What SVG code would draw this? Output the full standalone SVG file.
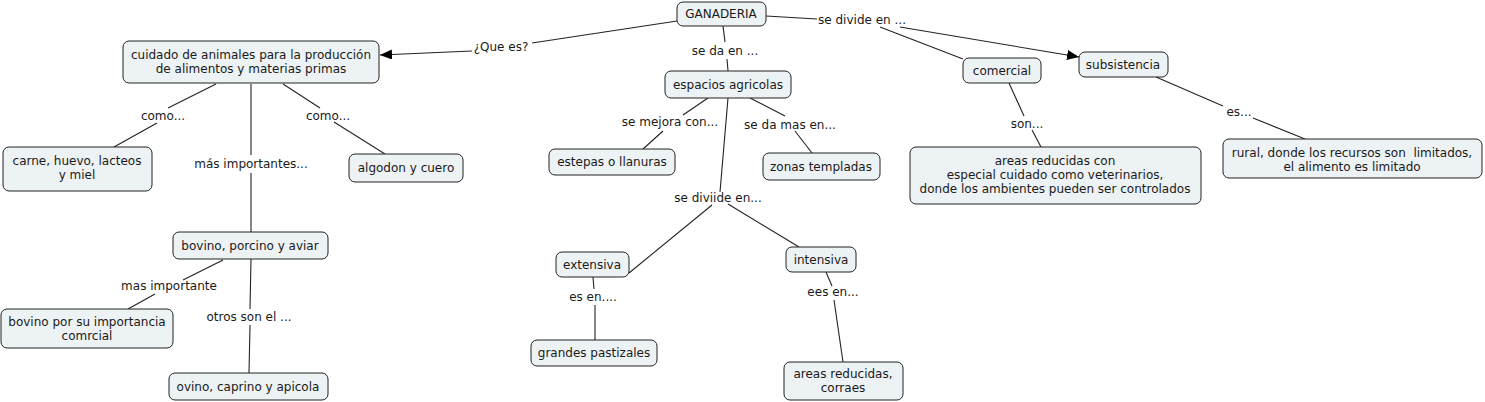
<svg xmlns="http://www.w3.org/2000/svg" width="1485" height="402" viewBox="0 0 1485 402">
<style>
.n rect{fill:#edf2f4;stroke:#222;stroke-width:1}
text{font-family:"DejaVu Sans","Liberation Sans",sans-serif;font-size:12px;fill:#1a1a1a;text-anchor:middle}
.c line{stroke:#222;stroke-width:1.1}
</style>
<defs>
<marker id="ah" markerWidth="12" markerHeight="10" refX="12" refY="5" orient="auto" markerUnits="userSpaceOnUse">
<path d="M0,0 L12,5 L0,10 Z" fill="#000"/>
</marker>
</defs>
<rect width="1485" height="402" fill="#fff"/>
<g class="c" id="connectors">
<line x1="677" y1="21" x2="532" y2="43"/>
<line x1="472" y1="51" x2="380" y2="55" marker-end="url(#ah)"/>
<line x1="723" y1="26" x2="725" y2="42"/>
<line x1="727" y1="59" x2="728" y2="71"/>
<line x1="766" y1="16" x2="817" y2="19"/>
<line x1="880" y1="27" x2="963" y2="59"/>
<line x1="900" y1="27" x2="1079" y2="57" marker-end="url(#ah)"/>
<line x1="708" y1="98" x2="683" y2="115"/>
<line x1="663" y1="131" x2="643" y2="149"/>
<line x1="750" y1="98" x2="785" y2="116"/>
<line x1="795" y1="131" x2="812" y2="153"/>
<line x1="728" y1="98" x2="720" y2="192"/>
<line x1="712" y1="205" x2="629" y2="273"/>
<line x1="728" y1="204" x2="799" y2="247"/>
<line x1="593" y1="277" x2="594" y2="289"/>
<line x1="595" y1="305" x2="595" y2="340"/>
<line x1="826" y1="272" x2="832" y2="286"/>
<line x1="834" y1="300" x2="843" y2="362"/>
<line x1="216" y1="84" x2="168" y2="108"/>
<line x1="157" y1="123" x2="114" y2="147"/>
<line x1="283" y1="84" x2="320" y2="108"/>
<line x1="334" y1="122" x2="385" y2="154"/>
<line x1="251" y1="84" x2="251" y2="155"/>
<line x1="251" y1="173" x2="251" y2="232"/>
<line x1="223" y1="260" x2="183" y2="280"/>
<line x1="155" y1="294" x2="128" y2="309"/>
<line x1="251" y1="259" x2="250" y2="309"/>
<line x1="250" y1="325" x2="249" y2="373"/>
<line x1="1009" y1="83" x2="1024" y2="116"/>
<line x1="1032" y1="130" x2="1041" y2="147"/>
<line x1="1156" y1="77" x2="1223" y2="106"/>
<line x1="1253" y1="118" x2="1305" y2="139"/>
</g>
<g id="link-labels">
<text x="501" y="51">¿Que es?</text>
<text x="725" y="55">se da en ...</text>
<text x="862" y="24">se divide en ...</text>
<text x="670" y="126">se mejora con...</text>
<text x="790" y="129">se da mas en...</text>
<text x="718" y="202">se diviide en...</text>
<text x="593" y="301">es en....</text>
<text x="833" y="296">ees en...</text>
<text x="163" y="120">como...</text>
<text x="328" y="120">como...</text>
<text x="251" y="168">más importantes...</text>
<text x="169" y="290">mas importante</text>
<text x="249" y="321">otros son el ...</text>
<text x="1027" y="128">son...</text>
<text x="1239" y="116">es...</text>
</g>
<g class="n" id="ganaderia"><rect x="677" y="2" width="89" height="24" rx="6"/><text x="721" y="18">GANADERIA</text></g>
<g class="n" id="cuidado"><rect x="123" y="41" width="256" height="42" rx="6"/><text x="251" y="59">cuidado de animales para la producción</text><text x="251" y="73">de alimentos y materias primas</text></g>
<g class="n" id="carne"><rect x="3" y="147" width="149" height="44" rx="6"/><text x="77" y="165">carne, huevo, lacteos</text><text x="77" y="179">y miel</text></g>
<g class="n" id="algodon"><rect x="349" y="154" width="114" height="28" rx="6"/><text x="406" y="172">algodon y cuero</text></g>
<g class="n" id="bovino-porcino"><rect x="173" y="232" width="155" height="27" rx="6"/><text x="250" y="250">bovino, porcino y aviar</text></g>
<g class="n" id="bovino-importancia"><rect x="1" y="309" width="172" height="39" rx="6"/><text x="87" y="326">bovino por su importancia</text><text x="87" y="340">comrcial</text></g>
<g class="n" id="ovino"><rect x="169" y="373" width="159" height="27" rx="6"/><text x="248" y="391">ovino, caprino y apicola</text></g>
<g class="n" id="espacios"><rect x="665" y="71" width="126" height="27" rx="6"/><text x="728" y="89">espacios agricolas</text></g>
<g class="n" id="estepas"><rect x="549" y="149" width="126" height="26" rx="6"/><text x="612" y="166">estepas o llanuras</text></g>
<g class="n" id="zonas"><rect x="763" y="153" width="117" height="27" rx="6"/><text x="821" y="171">zonas templadas</text></g>
<g class="n" id="extensiva"><rect x="556" y="252" width="73" height="25" rx="6"/><text x="592" y="269">extensiva</text></g>
<g class="n" id="intensiva"><rect x="786" y="247" width="70" height="25" rx="6"/><text x="821" y="264">intensiva</text></g>
<g class="n" id="pastizales"><rect x="531" y="340" width="126" height="26" rx="6"/><text x="594" y="357">grandes pastizales</text></g>
<g class="n" id="areas-corraes"><rect x="784" y="362" width="119" height="38" rx="6"/><text x="843" y="378">areas reducidas,</text><text x="843" y="392">corraes</text></g>
<g class="n" id="comercial"><rect x="963" y="58" width="78" height="25" rx="6"/><text x="1002" y="75">comercial</text></g>
<g class="n" id="subsistencia"><rect x="1079" y="52" width="89" height="25" rx="6"/><text x="1123" y="69">subsistencia</text></g>
<g class="n" id="areas-con"><rect x="910" y="147" width="291" height="57" rx="6"/><text x="1055" y="165">areas reducidas con</text><text x="1055" y="179">especial cuidado como veterinarios,</text><text x="1055" y="193">donde los ambientes pueden ser controlados</text></g>
<g class="n" id="rural"><rect x="1223" y="139" width="259" height="39" rx="6"/><text x="1352" y="157" xml:space="preserve">rural, donde los recursos son  limitados,</text><text x="1352" y="171">el alimento es limitado</text></g>
</svg>
